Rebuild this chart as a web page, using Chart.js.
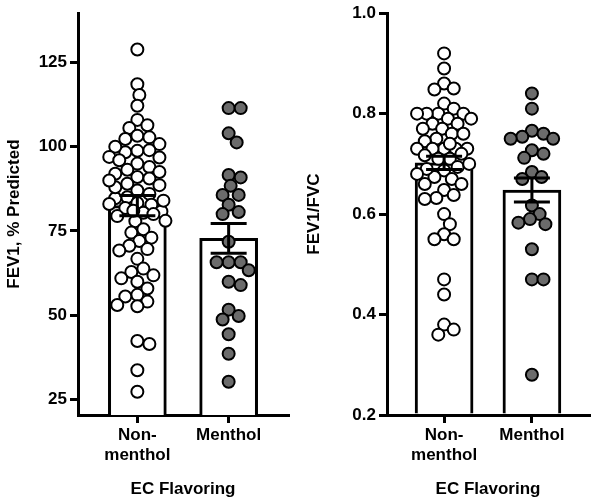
<!DOCTYPE html>
<html>
<head>
<meta charset="utf-8">
<script src="https://cdn.jsdelivr.net/npm/chart.js@4"></script>
<style>
  body { margin: 0; background: #fff; }
  .wrap { position: absolute; top: 0; height: 504px; }
</style>
</head>
<body>
<div class="wrap" style="left:0;width:300px"><canvas id="fevChart"></canvas></div>
<div class="wrap" style="left:300px;width:297px"><canvas id="ratioChart"></canvas></div>
<script>
/* ── Data ───────────────────────────────────────────── */
const CATEGORIES = [['Non-', 'menthol'], 'Menthol'];

const FEV_NONMENTHOL = [128.9, 118.6, 115.4, 112.2, 108, 106.4, 105.6, 103.3, 102.8, 102.3, 100.8,
  98.8, 99, 98.4, 96.8, 95, 94, 93.2, 92.5, 91, 90.6, 89, 88.6, 87, 86, 85, 84.7, 83.3, 82.8,
  81.8, 80.8, 80.4, 79.4, 77.9, 75.5, 74.5, 73, 72, 70.6, 69.6, 69.2, 66.7, 63.8, 62.8, 61.8,
  60.9, 59.9, 57.9, 56, 55.5, 54, 53, 52.6, 42.3, 41.4, 33.6, 27.2,
  100, 97, 92, 88, 84, 83, 81, 80, 78, 90, 96];
const FEV_MENTHOL = [111.5, 111.5, 104, 101.3, 91.6, 90.9, 88.4, 85.7, 85.7, 82.8, 80.6, 80,
  71.8, 65.7, 65.7, 65.7, 63.3, 59.9, 58.9, 51.6, 49.7, 48.7, 44.3, 38.5, 30.2];
const FEV_MEAN = [82.5, 72.8];
const FEV_SEM  = [3.0, 4.4];

const RATIO_NONMENTHOL = [0.92, 0.89, 0.86, 0.85, 0.848, 0.82, 0.81, 0.80, 0.80, 0.80, 0.79,
  0.78, 0.78, 0.77, 0.77, 0.76, 0.76, 0.75, 0.745, 0.73, 0.73, 0.73, 0.73, 0.73, 0.717, 0.71,
  0.71, 0.694, 0.687, 0.674, 0.67, 0.66, 0.648, 0.638, 0.632, 0.63, 0.60, 0.58, 0.56, 0.55,
  0.55, 0.47, 0.44, 0.38, 0.37, 0.36, 0.80, 0.79, 0.74, 0.72, 0.70, 0.69, 0.68, 0.66];
const RATIO_MENTHOL = [0.84, 0.81, 0.766, 0.76, 0.754, 0.75, 0.75, 0.727, 0.72, 0.712, 0.684,
  0.674, 0.67, 0.617, 0.60, 0.59, 0.583, 0.58, 0.53, 0.47, 0.47, 0.28];
const RATIO_MEAN = [0.702, 0.648];
const RATIO_SEM  = [0.013, 0.024];

/* ── Helpers ────────────────────────────────────────── */
const PX_PER_CAT = 91;
const DOT_GAP = 11;
const MAX_SPREAD = 28;

// simple beeswarm: returns x offsets (category units) for the values
function swarm(values, pxPerUnit) {
  const placed = [];
  return values.map(v => {
    const y = v * pxPerUnit;
    let best = 0, bestDist = -1;
    for (let k = 0; k <= MAX_SPREAD / 2 * 2; k++) {
      const cand = k === 0 ? 0 : (k % 2 ? 1 : -1) * Math.ceil(k / 2) * 2;
      if (Math.abs(cand) > MAX_SPREAD) break;
      const d = placed.reduce((m, p) => Math.min(m, Math.hypot(p.x - cand, p.y - y)), Infinity);
      if (d >= DOT_GAP) { best = cand; bestDist = d; break; }
      if (d > bestDist) { bestDist = d; best = cand; }
    }
    placed.push({ x: best, y });
    return best / PX_PER_CAT;
  });
}

function points(values, cat, pxPerUnit) {
  const off = swarm(values, pxPerUnit);
  return values.map((v, i) => ({ x: cat + off[i], y: v }));
}

const FONT = { family: "Arial, 'Liberation Sans', sans-serif", weight: 'bold' };

const errorBars = {
  id: 'errorBars',
  afterDatasetsDraw(chart, args, opts) {
    const { ctx, scales: { x, y } } = chart;
    ctx.save();
    ctx.strokeStyle = '#000';
    ctx.lineWidth = 3;
    opts.mean.forEach((m, i) => {
      const cx = x.getPixelForValue(i + 1);
      const hi = y.getPixelForValue(m + opts.sem[i]);
      const lo = y.getPixelForValue(m - opts.sem[i]);
      ctx.beginPath();
      ctx.moveTo(cx, hi); ctx.lineTo(cx, lo);
      ctx.moveTo(cx - 18, hi); ctx.lineTo(cx + 18, hi);
      ctx.moveTo(cx - 18, lo); ctx.lineTo(cx + 18, lo);
      ctx.stroke();
    });
    ctx.restore();
  }
};

function makeChart(id, cfg) {
  new Chart(document.getElementById(id), {
    data: {
      datasets: [
        {
          type: 'scatter', order: 0, data: points(cfg.groupA, 1, cfg.pxPerUnit),
          pointRadius: 6, pointBorderWidth: 2, pointBorderColor: '#000',
          pointBackgroundColor: '#fff'
        },
        {
          type: 'scatter', order: 0, data: points(cfg.groupB, 2, cfg.pxPerUnit),
          pointRadius: 6, pointBorderWidth: 2, pointBorderColor: '#000',
          pointBackgroundColor: '#6b6b6b'
        },
        {
          type: 'bar', order: 1,
          data: cfg.mean.map((m, i) => ({ x: i + 1, y: m })),
          backgroundColor: '#fff', borderColor: '#000', borderWidth: 3,
          barThickness: 58, base: cfg.min
        }
      ]
    },
    options: {
      responsive: true, maintainAspectRatio: false, animation: false,
      layout: { padding: { top: 8, right: cfg.padRight } },
      plugins: { legend: { display: false }, tooltip: { enabled: false },
                 errorBars: { mean: cfg.mean, sem: cfg.sem } },
      scales: {
        x: {
          type: 'linear', min: 0.35, max: 2.65, offset: false,
          afterBuildTicks: s => { s.ticks = [{ value: 1 }, { value: 2 }]; },
          afterFit: s => { s.height = 89; },
          grid: { drawOnChartArea: false, offset: false, color: '#000', lineWidth: 3, tickLength: 8 },
          border: { color: '#000', width: 3 },
          ticks: { color: '#000', font: { ...FONT, size: 17 }, padding: 2, maxRotation: 0,
                   callback: v => CATEGORIES[v - 1] },
          title: { display: true, text: 'EC Flavoring', color: '#000', font: { ...FONT, size: 17 },
                   padding: { top: 2 } }
        },
        y: {
          min: cfg.min, max: cfg.max,
          afterBuildTicks: s => { s.ticks = cfg.ticks.map(v => ({ value: v })); },
          afterFit: s => { s.width = cfg.axisWidth; },
          grid: { drawOnChartArea: false, color: '#000', lineWidth: 3, tickLength: 8 },
          border: { color: '#000', width: 3 },
          ticks: { color: '#000', font: { ...FONT, size: 17 }, padding: 3,
                   callback: cfg.fmt },
          title: { display: true, text: cfg.title, color: '#000', font: { ...FONT, size: 17 } }
        }
      }
    },
    plugins: [errorBars]
  });
}

makeChart('fevChart', {
  groupA: FEV_NONMENTHOL, groupB: FEV_MENTHOL, mean: FEV_MEAN, sem: FEV_SEM,
  min: 20.3, max: 139.7, ticks: [25, 50, 75, 100, 125], pxPerUnit: 3.41,
  title: 'FEV1, % Predicted', axisWidth: 78, padRight: 12, fmt: v => v
});
makeChart('ratioChart', {
  groupA: RATIO_NONMENTHOL, groupB: RATIO_MENTHOL, mean: RATIO_MEAN, sem: RATIO_SEM,
  min: 0.2, max: 1.0, ticks: [0.2, 0.4, 0.6, 0.8, 1.0], pxPerUnit: 508.75,
  title: 'FEV1/FVC', axisWidth: 87, padRight: 0, fmt: v => v.toFixed(1)
});
</script>
</body>
</html>
